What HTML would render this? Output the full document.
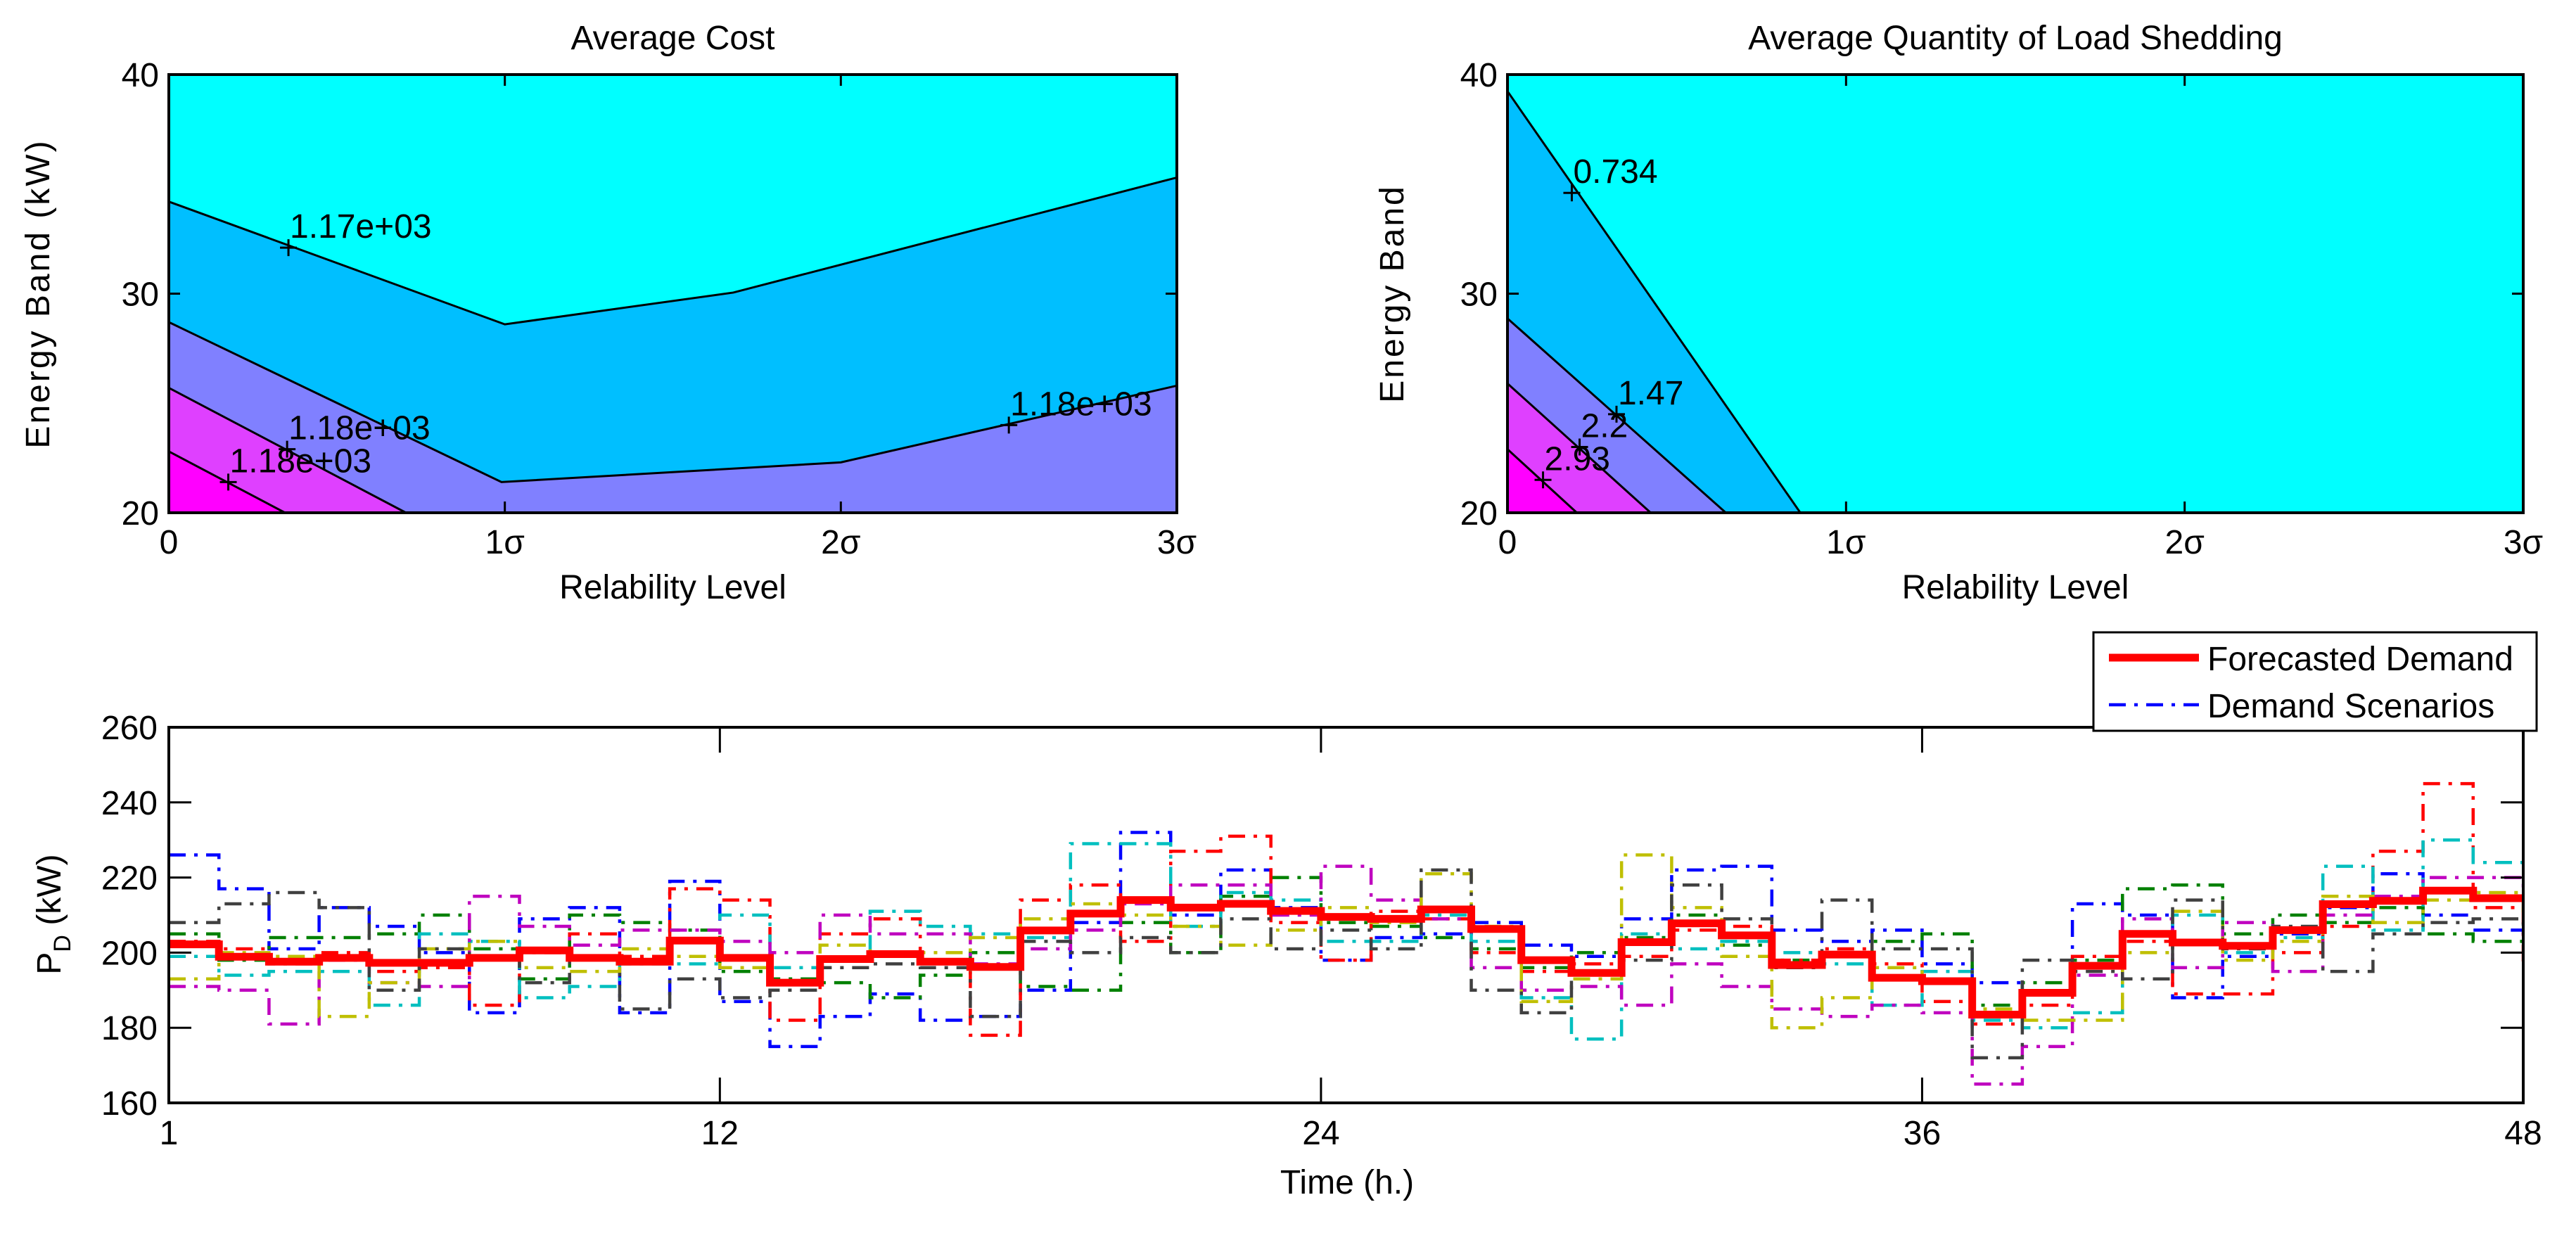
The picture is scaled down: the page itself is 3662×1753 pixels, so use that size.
<!DOCTYPE html>
<html><head><meta charset="utf-8"><style>
html,body{margin:0;padding:0;background:#fff;}
svg{display:block;font-family:"Liberation Sans",Arial,sans-serif;}
</style></head><body>
<svg id="fig" width="3662" height="1753" viewBox="0 0 3662 1753" xmlns="http://www.w3.org/2000/svg">
<rect x="0" y="0" width="3662" height="1753" fill="#fff"/>
<g id="p1"></g>
<g id="p2"></g>
<g id="p3"></g>
</svg>
<script>
// ---- Contour data: Average Cost ----
const costLevelColors = ["#00FFFF","#00BFFF","#8080FF","#DF40FF","#FF00FF"];
const costLineA = [[0,34.2],[1.0,28.6],[1.68,30.05],[3,35.3]];
const costLineB = [[0,28.7],[0.99,21.4],[2,22.3],[3,25.8]];
const costLineC = [[0,25.7],[0.706,20]];
const costLineD = [[0,22.8],[0.346,20]];
const costLabels = ["1.17e+03","1.18e+03","1.18e+03","1.18e+03"];
const costLabelPts = [[0.356,32.1],[0.352,22.9],[0.177,21.4],[2.5,24.0]];
// ---- Contour data: Load shedding ----
const shedLevelColors = ["#00FFFF","#00BFFF","#8080FF","#DF40FF","#FF00FF"];
const shedLineA = [[0,39.24],[0.865,20]];
const shedLineB = [[0,28.87],[0.645,20]];
const shedLineC = [[0,25.9],[0.423,20]];
const shedLineD = [[0,22.9],[0.205,20]];
const shedLabels = ["0.734","1.47","2.2","2.93"];
const shedLabelPts = [[0.19,34.6],[0.322,24.5],[0.213,23.0],[0.105,21.5]];
const relTicks = ["0","1σ","2σ","3σ"];
const bandTicks = [20,30,40];
// ---- Demand data ----
const forecast = [202.2,198.9,197.6,198.6,197.3,197.3,198.6,200.6,198.6,197.6,203.2,198.6,192,198.3,199.6,197.6,196.2,205.9,210.4,214,212,213,211.1,209.5,209,211.5,206.3,198,194.6,202.8,207.8,204.6,196.7,199.5,193.3,192.4,183.5,189.3,196.5,205,202.7,201.8,206,212.9,213.8,216.5,214.5,214.5];
const scenBlue = [226,217,201,212,207,200,184,209,212,184,219,187,175,183,189,182,183,190,208,232,210,222,212,198,204,205,208,202,199,209,222,223,206,203,206,197,192,189,213,210,188,199,205,212,221,210,206,204];
const scenGreen = [205,198,204,204,205,210,201,193,210,208,206,195,193,192,188,194,200,191,190,208,200,215,220,208,207,204,201,196,200,204,210,202,198,200,203,205,186,192,198,217,218,205,210,208,212,205,203,202];
const scenRed = [203,201,197,200,195,196,186,200,205,199,217,214,182,205,209,198,178,214,218,203,227,231,208,198,211,209,200,195,197,199,206,207,198,201,197,187,181,186,199,203,189,189,200,207,227,245,212,196];
const scenCyan = [199,194,195,195,186,205,203,188,191,197,197,210,196,198,211,207,205,204,229,229,207,216,214,203,203,210,203,188,177,205,201,203,200,197,186,195,182,180,184,205,210,200,204,223,206,230,224,222];
const scenMagenta = [191,190,181,198,192,191,215,207,202,206,206,203,200,210,205,205,197,201,206,213,218,218,210,223,214,209,196,190,191,186,197,191,185,183,186,184,165,175,194,209,196,208,195,210,215,220,220,212];
const scenYellow = [193,200,199,183,192,201,203,196,195,201,199,196,192,202,199,200,204,209,213,210,207,202,206,212,208,221,207,187,193,226,212,199,180,188,196,193,185,182,182,200,211,198,203,215,208,214,216,210];
const scenGray = [208,213,216,212,190,201,199,192,199,185,193,188,190,196,197,196,183,203,200,204,200,209,201,206,201,222,190,184,195,198,218,209,196,214,201,201,172,198,195,193,214,201,207,195,205,208,209,206];
const scenNames = ["blue","green","red","cyan","magenta","yellow","gray"];
const scenColors = ["#0000FF","#008000","#FF0000","#00BFBF","#BF00BF","#BFBF00","#404040"];
const timeTicks = [1,12,24,36,48];
const demandTicks = [160,180,200,220,240,260];

const NS="http://www.w3.org/2000/svg";
function mk(parent,tag,attrs,text){const e=document.createElementNS(NS,tag);for(const k in attrs)e.setAttribute(k,attrs[k]);if(text!==undefined)e.textContent=text;parent.appendChild(e);return e;}
const FS=48;

function contourPlot(g,L,R,T,B,title,ylabel,colors,lines,labels,labelPts,namePrefix,ylx){
  const sx=v=>L+v*(R-L)/3, sy=v=>T+(40-v)*(B-T)/20;
  const bg=mk(g,'rect',{x:L,y:T,width:R-L,height:B-T,fill:colors[0]});
  
  
  lines.forEach((ln,i)=>{
    let pts=ln.map(p=>sx(p[0])+','+sy(p[1]));
    const last=ln[ln.length-1];
    pts.push(sx(last[0])+','+sy(20)); pts.push(sx(0)+','+sy(20));
    const pg=mk(g,'polygon',{points:pts.join(' '),fill:colors[i+1]});
    
    
  });
  lines.forEach((ln,i)=>{
    const pl=mk(g,'polyline',{points:ln.map(p=>sx(p[0])+','+sy(p[1])).join(' '),fill:'none',stroke:'#000','stroke-width':3});
    
    
  });
  labels.forEach((t,i)=>{
    const x=sx(labelPts[i][0]),y=sy(labelPts[i][1]);
    const m=mk(g,'path',{d:`M${x-12},${y}H${x+12}M${x},${y-12}V${y+12}`,stroke:'#000','stroke-width':3});
    
    
    const tx=mk(g,'text',{x:x+2,y:y-14,'font-size':FS},t);
    
    
  });
  const ax=mk(g,'rect',{x:L,y:T,width:R-L,height:B-T,fill:'none',stroke:'#000','stroke-width':4});
  
  
  relTicks.forEach((t,i)=>{
    const x=sx(i);
    mk(g,'path',{d:`M${x},${B}V${B-16}M${x},${T}V${T+16}`,stroke:'#000','stroke-width':3});
    const tx=mk(g,'text',{x:x,y:787,'font-size':FS,'text-anchor':'middle'},t);
    
    
  });
  bandTicks.forEach(v=>{
    const y=sy(v);
    mk(g,'path',{d:`M${L},${y}H${L+16}M${R},${y}H${R-16}`,stroke:'#000','stroke-width':3});
    const tx=mk(g,'text',{x:L-14,y:y+17,'font-size':FS,'text-anchor':'end'},v);
    
    
  });
  const ti=mk(g,'text',{x:(L+R)/2,y:70,'font-size':FS,'text-anchor':'middle'},title);
  
  
  const xl=mk(g,'text',{x:(L+R)/2,y:851,'font-size':FS,'text-anchor':'middle'},'Relability Level');
  
  
  const yl=mk(g,'text',{x:0,y:0,'font-size':FS,'text-anchor':'middle','letter-spacing':3,transform:`translate(${ylx},${(T+B)/2}) rotate(-90)`},ylabel);
  
  
}
contourPlot(document.getElementById('p1'),240,1673,106,729,'Average Cost','Energy Band (kW)',costLevelColors,[costLineA,costLineB,costLineC,costLineD],costLabels,costLabelPts,'cost',70);
contourPlot(document.getElementById('p2'),2143,3587,106,729,'Average Quantity of Load Shedding','Energy Band',shedLevelColors,[shedLineA,shedLineB,shedLineC,shedLineD],shedLabels,shedLabelPts,'shed',1995);

// ---- Demand plot ----
(function(){
  const g=document.getElementById('p3');
  const L=240,R=3587,T=1034,B=1568;
  const sx=h=>L+(h-1)*(R-L)/47, sy=v=>B-(v-160)*(B-T)/100;
  const stairs=arr=>{let d='M'+sx(1)+','+sy(arr[0]);for(let i=1;i<arr.length;i++){d+='H'+sx(i+1)+'V'+sy(arr[i]);}return d;};
  const cp=mk(g,'clipPath',{id:'clip3'});mk(cp,'rect',{x:L,y:T,width:R-L,height:B-T});
  const series=[scenBlue,scenGreen,scenRed,scenCyan,scenMagenta,scenYellow,scenGray];
  series.forEach((s,i)=>{
    const p=mk(g,'path',{d:stairs(s),fill:'none',stroke:scenColors[i],'stroke-width':4.5,'stroke-dasharray':'24 12 5 12','clip-path':'url(#clip3)'});
    
    
  });
  const f=mk(g,'path',{d:stairs(forecast),fill:'none',stroke:'#FF0000','stroke-width':11,'clip-path':'url(#clip3)'});
  
  
  const ax=mk(g,'rect',{x:L,y:T,width:R-L,height:B-T,fill:'none',stroke:'#000','stroke-width':4});
  
  
  timeTicks.forEach(t=>{
    const x=sx(t);
    mk(g,'path',{d:`M${x},${B}V${B-36}M${x},${T}V${T+36}`,stroke:'#000','stroke-width':3});
    const tx=mk(g,'text',{x:x,y:1627,'font-size':FS,'text-anchor':'middle'},t);
    
    
  });
  demandTicks.forEach(v=>{
    const y=sy(v);
    mk(g,'path',{d:`M${L},${y}H${L+32}M${R},${y}H${R-32}`,stroke:'#000','stroke-width':3});
    const tx=mk(g,'text',{x:L-16,y:y+17,'font-size':FS,'text-anchor':'end'},v);
    
    
  });
  const xl=mk(g,'text',{x:1915,y:1697,'font-size':FS,'text-anchor':'middle'},'Time (h.)');
  
  
  const yl=mk(g,'text',{x:0,y:0,'font-size':FS,'text-anchor':'middle',transform:`translate(86,1300) rotate(-90)`});
  
  
  mk(yl,'tspan',{},'P');
  mk(yl,'tspan',{'font-size':34,dy:14},'D');
  mk(yl,'tspan',{dy:-14},' (kW)');
  // legend
  const lg=mk(g,'g',{});
  
  
  mk(lg,'rect',{x:2976,y:899,width:630,height:140,fill:'#fff',stroke:'#000','stroke-width':3});
  const e1=mk(lg,'g',{});
  
  
  mk(e1,'path',{d:'M2998,935H3126',stroke:'#FF0000','stroke-width':11});
  mk(e1,'text',{x:3138,y:953,'font-size':FS},'Forecasted Demand');
  const e2=mk(lg,'g',{});
  
  
  mk(e2,'path',{d:'M2998,1002H3126',stroke:'#0000FF','stroke-width':4.5,'stroke-dasharray':'24 12 5 12'});
  mk(e2,'text',{x:3138,y:1020,'font-size':FS},'Demand Scenarios');
})();
</script>
</body></html>
